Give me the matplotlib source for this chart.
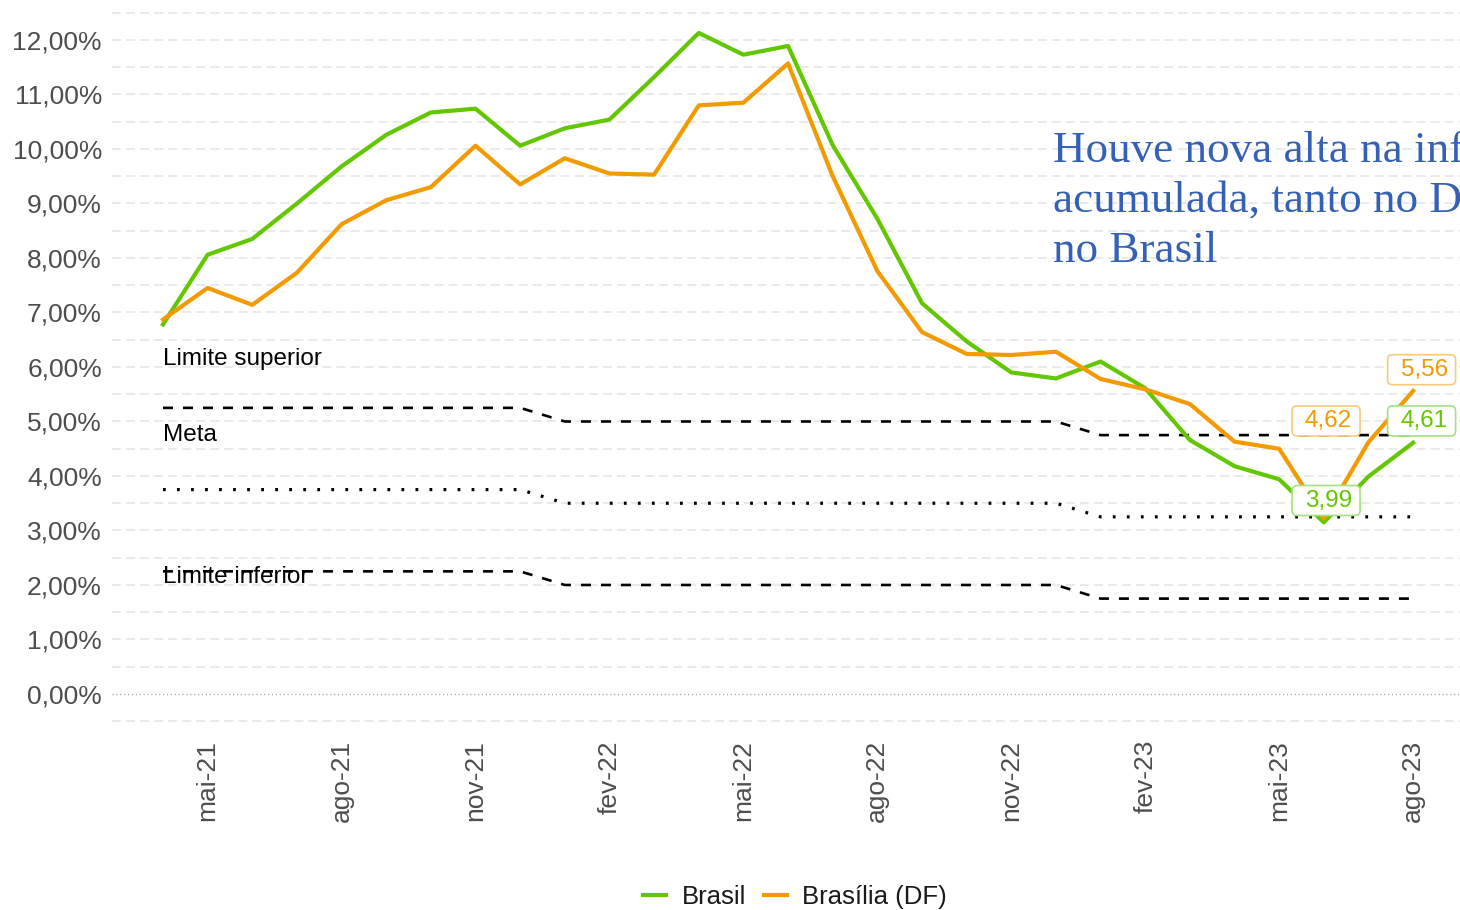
#IPCA acumulado em 12 meses: Brasil x Brasilia (DF), com metas de inflacao
import matplotlib
matplotlib.use('Agg')
import matplotlib.pyplot as plt
import matplotlib.transforms as mtransforms
from matplotlib.patches import FancyBboxPatch
from matplotlib.lines import Line2D
import numpy as np

plt.rcParams['font.family'] = ['Liberation Sans', 'DejaVu Sans']
plt.rcParams['lines.scale_dashes'] = False

# IPCA acumulado em 12 meses (%)
meses = ['abr-21', 'mai-21', 'jun-21', 'jul-21', 'ago-21', 'set-21', 'out-21', 'nov-21', 'dez-21',
         'jan-22', 'fev-22', 'mar-22', 'abr-22', 'mai-22', 'jun-22', 'jul-22', 'ago-22', 'set-22',
         'out-22', 'nov-22', 'dez-22',
         'jan-23', 'fev-23', 'mar-23', 'abr-23', 'mai-23', 'jun-23', 'jul-23', 'ago-23']
brasil = [6.78, 8.06, 8.35, 9.00, 9.68, 10.26, 10.67, 10.74, 10.06,
          10.38, 10.54, 11.32, 12.13, 11.73, 11.89, 10.07, 8.72, 7.17,
          6.47, 5.90, 5.79,
          6.10, 5.61, 4.66, 4.18, 3.94, 3.15, 3.99, 4.61]
brasilia_df = [6.87, 7.45, 7.14, 7.73, 8.62, 9.06, 9.30, 10.06, 9.35,
               9.83, 9.55, 9.53, 10.80, 10.85, 11.57, 9.50, 7.76, 6.64,
               6.24, 6.22, 6.28,
               5.78, 5.59, 5.32, 4.63, 4.50, 3.22, 4.62, 5.56]

# meta de inflacao por ano e intervalo de tolerancia (p.p.)
anos_meta = ['21', '22', '23']
meta_ano = [3.75, 3.50, 3.25]
tolerancia = 1.5

# rotulos dos ultimos meses
rotulo_meses = ['jul-23', 'jul-23', 'ago-23', 'ago-23']
rotulo_series = ['Brasília (DF)', 'Brasil', 'Brasília (DF)', 'Brasil']

nota = ['Houve nova alta na inflação', 'acumulada, tanto no DF quanto', 'no Brasil']

verde = '#63C700'
laranja = '#F29A00'
cores = {'Brasil': verde, 'Brasília (DF)': laranja}
cores_borda = {'Brasil': '#A6DF80', 'Brasília (DF)': '#F7C97E'}
series = {'Brasil': brasil, 'Brasília (DF)': brasilia_df}

x = np.arange(len(meses))
meta = np.array([meta_ano[anos_meta.index(m[-2:])] for m in meses])
lim_sup = meta + tolerancia
lim_inf = meta - tolerancia

fig = plt.figure(figsize=(14.6, 9.1), dpi=100)
ax = fig.add_axes([112/1460, 1 - 730/910, 1 - 112/1460, 730/910])

# grade horizontal tracejada a cada 0,5 p.p.
for g in np.arange(-0.5, 13.0, 0.5):
    if g != 0:
        ax.axhline(g, color='#e4e4e4', lw=1.1, dashes=(6.5, 3.6), zorder=0)
ax.axhline(0, color='#a5a5a5', lw=1.0, dashes=(0.8, 2.0), zorder=1)

# metas
ax.plot(x, lim_sup, color='black', lw=1.9, dashes=(7.2, 7.2), zorder=2)
ax.plot(x, meta, color='black', lw=2.3, dashes=(2.0, 8.1), zorder=2)
ax.plot(x, lim_inf, color='black', lw=1.9, dashes=(7.2, 7.2), zorder=2)
ax.text(0, 6.15, 'Limite superior', fontsize=17.5, va='center', ha='left', color='black')
ax.text(0, 4.76, 'Meta', fontsize=17.5, va='center', ha='left', color='black')
ax.text(0, 2.15, 'Limite inferior', fontsize=17.5, va='center', ha='left', color='black')

# series
ax.plot(x, brasil, color=verde, lw=3, zorder=3)
ax.plot(x, brasilia_df, color=laranja, lw=3, zorder=3)

# rotulos com caixa
deslocamentos = [(-0.95, 0.39), (-0.95, -0.44), (0.19, 0.39), (0.19, 0.40)]
for m, s, (dx, dy) in zip(rotulo_meses, rotulo_series, deslocamentos):
    i = meses.index(m)
    v = series[s][i]
    cx, cy = i + dx, v + dy
    trans = fig.dpi_scale_trans + mtransforms.ScaledTranslation(cx, cy, ax.transData)
    caixa = FancyBboxPatch((-0.34, -0.15), 0.68, 0.30, boxstyle='round,pad=0,rounding_size=0.05',
                           transform=trans, facecolor='white', edgecolor=cores_borda[s],
                           lw=1.2, zorder=5)
    ax.add_artist(caixa)
    ax.text(cx, cy, f'{v:.2f}'.replace('.', ','), ha='center', va='center', color=cores[s],
            fontsize=17.5, zorder=6,
            transform=mtransforms.offset_copy(ax.transData, fig=fig, x=2.5, y=0, units='dots'))

# eixos
ax.set_xlim(-1.142, 29.05)
ax.set_ylim(-0.661, 12.734)
ax.set_xticks(x[1::3])
ax.set_xticklabels(np.array(meses)[1::3], rotation=90, fontsize=19, color='#4d4d4d')
yt = np.arange(0, 13)
ax.set_yticks(yt)
ax.set_yticklabels([f'{v:.2f}'.replace('.', ',') + '%' for v in yt], fontsize=19, color='#4d4d4d')
ax.tick_params(length=0, pad=7.2)
for sp in ax.spines.values():
    sp.set_visible(False)
ax.set_facecolor('none')

# legenda
handles = [Line2D([], [], color=verde, lw=3), Line2D([], [], color=laranja, lw=3)]
fig.legend(handles, ['Brasil', 'Brasília (DF)'], loc='center', bbox_to_anchor=(795/1460, 1 - 897/910),
           ncol=2, frameon=False, fontsize=18.5, handlelength=0.9, handletextpad=0.6,
           columnspacing=0.7, borderpad=0, labelcolor='#1a1a1a')

# nota em azul (cortada na borda direita, como no original)
for k, linha in enumerate(nota):
    fig.text(1053/1460, 1 - (161.7 + 50*k)/910, linha, fontfamily='Liberation Serif', fontsize=32.5,
             color='#3461B5', va='baseline', ha='left')

fig.savefig('out.png', dpi=100)
